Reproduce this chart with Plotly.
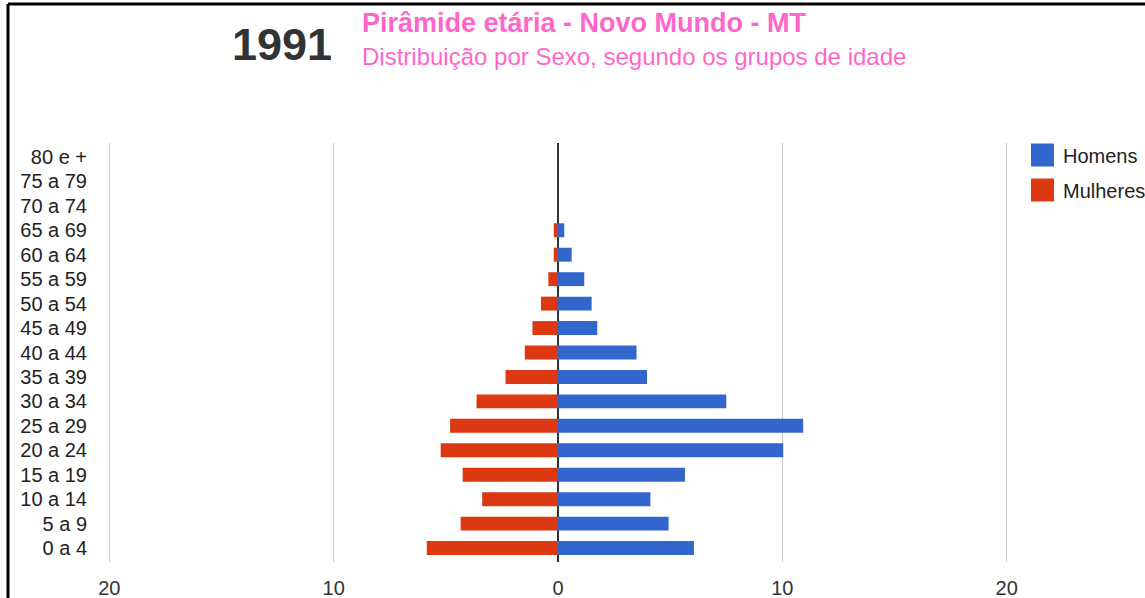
import plotly.graph_objects as go

# ---- data ----
age_groups = ["0 a 4", "5 a 9", "10 a 14", "15 a 19", "20 a 24", "25 a 29", "30 a 34",
              "35 a 39", "40 a 44", "45 a 49", "50 a 54", "55 a 59", "60 a 64",
              "65 a 69", "70 a 74", "75 a 79", "80 e +"]
homens = [6.06, 4.93, 4.12, 5.66, 10.04, 10.93, 7.50, 3.97, 3.50, 1.75, 1.50, 1.17,
          0.61, 0.28, 0.0, 0.0, 0.0]
mulheres = [5.85, 4.34, 3.38, 4.25, 5.23, 4.81, 3.63, 2.34, 1.48, 1.14, 0.76, 0.43,
            0.19, 0.19, 0.0, 0.0, 0.0]
x_tick_vals = [-20, -10, 0, 10, 20]
x_tick_text = ["20", "10", "0", "10", "20"]
year_label = "1991"
title_text = "Pirâmide etária - Novo Mundo - MT"
subtitle_text = "Distribuição por Sexo, segundo os grupos de idade"
series_names = ["Homens", "Mulheres"]
colors = ["#3366cc", "#dc3912"]

W, H = 1145, 598
L, R, T, B = 108, 1008, 143, 562  # plot area in pixels

def px_x(p):
    return (p - L) / (R - L)

def px_y(p):
    return (B - p) / (B - T)

FONT = "Arial, Liberation Sans, sans-serif"

fig = go.Figure()
fig.add_trace(go.Bar(y=age_groups, x=homens, orientation="h", name=series_names[0],
                     marker=dict(color=colors[0], line=dict(width=0))))
fig.add_trace(go.Bar(y=age_groups, x=[-v for v in mulheres], orientation="h",
                     name=series_names[1],
                     customdata=mulheres, hovertemplate="%{y}: %{customdata}<extra>Mulheres</extra>",
                     marker=dict(color=colors[1], line=dict(width=0))))

fig.update_layout(
    width=W, height=H,
    margin=dict(l=L, r=W - R, t=T, b=H - B, pad=0),
    paper_bgcolor="white", plot_bgcolor="white",
    barmode="relative", bargap=0.43,
    showlegend=False,
    font=dict(family=FONT, color="#222222", size=20),
)
fig.update_xaxes(range=[-20.06, 20.06], tickmode="array", tickvals=x_tick_vals, ticktext=x_tick_text,
                 showgrid=True, gridcolor="#cccccc", gridwidth=1,
                 zeroline=True, zerolinecolor="#333333", zerolinewidth=1.5,
                 showline=False, ticks="", tickfont=dict(size=20, color="#333333"),
                 ticklabelstandoff=12, automargin=False)
fig.update_yaxes(categoryorder="array", categoryarray=age_groups,
                 tickmode="array", tickvals=age_groups, ticktext=age_groups,
                 range=[-0.57, len(age_groups) - 1 + 0.57],
                 showgrid=False, zeroline=False, showline=False, ticks="",
                 tickfont=dict(size=20, color="#222222"), ticklabelstandoff=20,
                 automargin=False)

# titles
fig.add_annotation(x=px_x(334), y=px_y(44), xref="paper", yref="paper", text="<b>" + year_label + "</b>",
                   showarrow=False, xanchor="right", yanchor="middle",
                   font=dict(family=FONT, size=45, color="#333333"))
fig.add_annotation(x=px_x(360), y=px_y(23), xref="paper", yref="paper", text="<b>" + title_text + "</b>",
                   showarrow=False, xanchor="left", yanchor="middle",
                   font=dict(family=FONT, size=27, color="#ff66cc"))
fig.add_annotation(x=px_x(360), y=px_y(56), xref="paper", yref="paper", text=subtitle_text,
                   showarrow=False, xanchor="left", yanchor="middle",
                   font=dict(family=FONT, size=24, color="#ff66cc"))

# legend (custom, large squares)
for i, (nm, c) in enumerate(zip(series_names, colors)):
    cy = 155 + i * 35
    fig.add_shape(type="rect", xref="paper", yref="paper",
                  x0=px_x(1031), x1=px_x(1054), y0=px_y(cy - 11.5), y1=px_y(cy + 11.5),
                  fillcolor=c, line=dict(width=0))
    fig.add_annotation(x=px_x(1061), y=px_y(cy + 1), xref="paper", yref="paper", text=nm,
                       showarrow=False, xanchor="left", yanchor="middle",
                       font=dict(family=FONT, size=20, color="#222222"))

# document frame
fig.add_shape(type="line", xref="paper", yref="paper", x0=px_x(8), x1=px_x(8),
              y0=px_y(4), y1=px_y(640), line=dict(color="black", width=3))
fig.add_shape(type="line", xref="paper", yref="paper", x0=px_x(8), x1=px_x(1200),
              y0=px_y(4), y1=px_y(4), line=dict(color="black", width=3))

fig.write_html("out.html", config={"displayModeBar": False},
               post_script="document.body.style.margin='0';document.body.style.overflow='hidden';")
